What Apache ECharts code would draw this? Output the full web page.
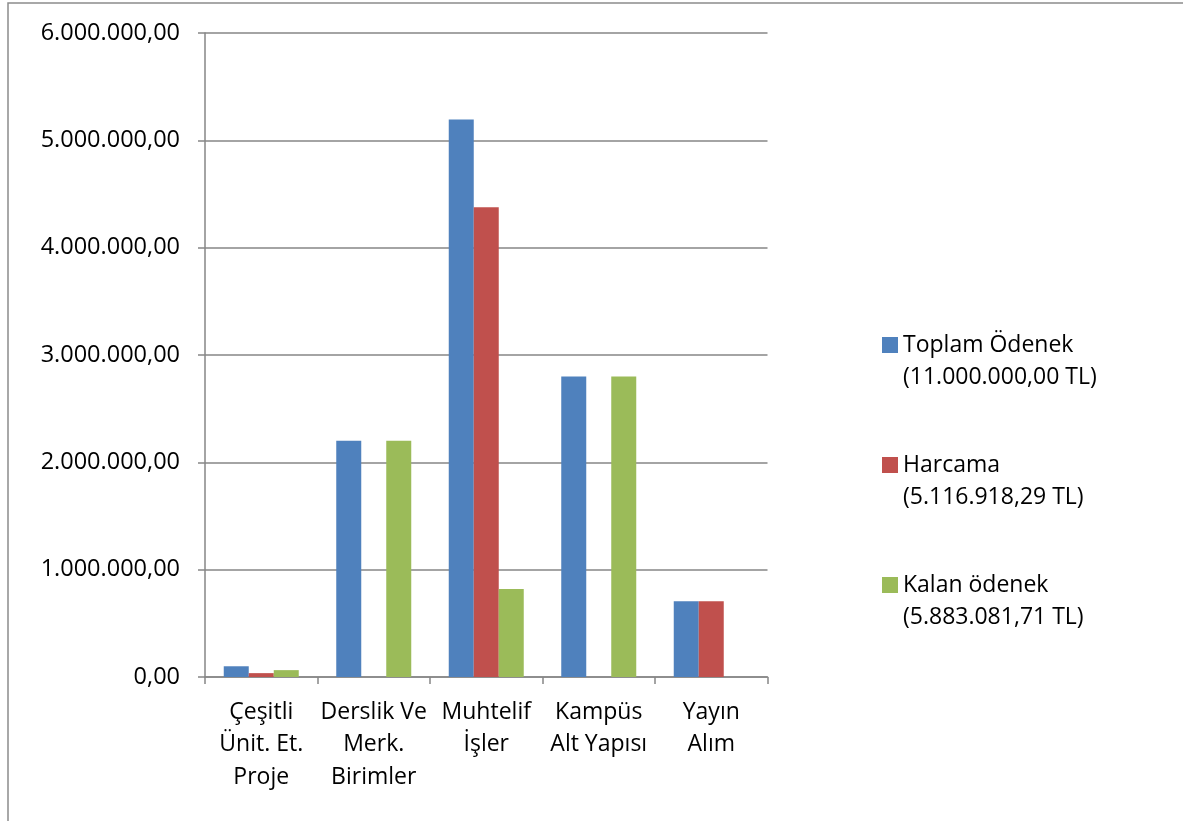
<!DOCTYPE html>
<html>
<head>
<meta charset="utf-8">
<script src="https://cdn.jsdelivr.net/npm/echarts@6/dist/echarts.min.js"></script>
<style>
html,body{margin:0;padding:0;background:#fff;}
#c{width:1183px;height:821px;}
</style>
</head>
<body>
<div id="c"></div>
<script>
const categories = ['Çeşitli\nÜnit. Et.\nProje', 'Derslik Ve\nMerk.\nBirimler', 'Muhtelif\nİşler', 'Kampüs\nAlt Yapısı', 'Yayın\nAlım'];
const seriesNames = ['Toplam Ödenek\n(11.000.000,00 TL)', 'Harcama\n(5.116.918,29 TL)', 'Kalan ödenek\n(5.883.081,71 TL)'];
const toplam = [100000, 2200000, 5195000, 2800000, 705000];
const harcama = [36000, 0, 4376000, 0, 705000];
const kalan = [64000, 2200000, 819000, 2800000, 0];
const yTicks = [0, 1000000, 2000000, 3000000, 4000000, 5000000, 6000000];
const colors = ['#4F81BD', '#C0504D', '#9BBB59'];

function fmtTR(v) {
  const s = Math.round(v).toString().replace(/\B(?=(\d{3})+(?!\d))/g, '.');
  return s + ',00';
}

const FONT = 'Open Sans';
const chart = echarts.init(document.getElementById('c'), null, {renderer: 'canvas'});
const dataSets = [toplam, harcama, kalan];
chart.setOption({
  animation: false,
  backgroundColor: '#fff',
  textStyle: {fontFamily: FONT},
  graphic: [{
    type: 'rect',
    shape: {x: 8, y: 3, width: 1300, height: 1000},
    style: {fill: 'none', stroke: '#8c8c8c', lineWidth: 1.5},
    silent: true,
    z: -1
  }],
  grid: {left: 205, right: 415.5, top: 33, bottom: 144, containLabel: false},
  legend: {
    orient: 'vertical',
    left: 882,
    top: 297,
    padding: 0,
    itemGap: 24,
    itemWidth: 16,
    itemHeight: 16,
    itemStyle: {borderWidth: 0},
    icon: 'rect',
    formatter: function (name) { return '\n' + name; },
    textStyle: {fontFamily: FONT, fontSize: 23, color: '#000', lineHeight: 32},
    data: seriesNames
  },
  xAxis: {
    type: 'category',
    data: categories,
    axisLine: {lineStyle: {color: '#868686', width: 1.5}},
    axisTick: {show: true, length: 7, lineStyle: {color: '#868686', width: 1.5}},
    axisLabel: {fontFamily: FONT, fontSize: 23, color: '#000', lineHeight: 32.5, margin: 19, interval: 0},
    splitLine: {show: false}
  },
  yAxis: {
    type: 'value',
    min: yTicks[0],
    max: yTicks[yTicks.length - 1],
    interval: yTicks[1] - yTicks[0],
    axisLine: {show: true, lineStyle: {color: '#868686', width: 1.5}},
    axisTick: {show: true, length: 7, lineStyle: {color: '#868686', width: 1.5}},
    axisLabel: {fontFamily: FONT, fontSize: 23.5, color: '#000', margin: 25, formatter: fmtTR},
    splitLine: {show: true, lineStyle: {color: '#868686', width: 1.5}}
  },
  series: seriesNames.map(function (n, i) {
    return {
      name: n,
      type: 'bar',
      data: dataSets[i],
      barWidth: 25,
      barGap: '0%',
      itemStyle: {color: colors[i]}
    };
  })
});
</script>
</body>
</html>
